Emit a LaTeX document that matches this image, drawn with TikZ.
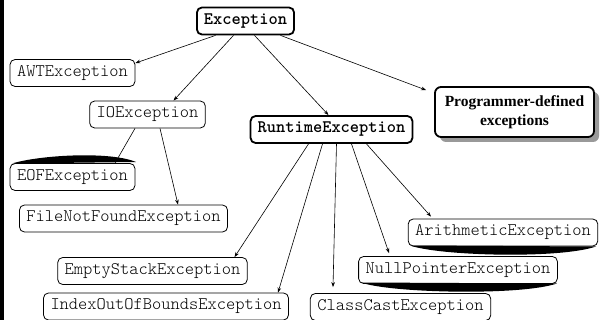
\documentclass[tikz,border=0pt]{standalone}
\usepackage{fontspec}
\setmainfont{Liberation Serif}
\setmonofont{lmmonolt10-regular.otf}[BoldFont=lmmonolt10-bold.otf]
\usetikzlibrary{arrows.meta}
\begin{document}
\begin{tikzpicture}[x=1pt,y=-1pt,
  cls/.style={draw=black, line width=0.8pt, rounded corners=5pt,
    font=\ttfamily\fontsize{17.6}{20}\selectfont, text=black,
    inner xsep=7pt, inner ysep=0pt, minimum height=27pt},
  key/.style={cls, line width=1.8pt,
    font=\ttfamily\bfseries\fontsize{17.6}{20}\selectfont},
  link/.style={line width=0.6pt, -{Stealth[length=5pt,width=3.6pt]}},
  swoosh/.style={fill=black, draw=none}
]
\useasboundingbox (0,0) rectangle (602,320);
\fill[black] (0,0) rectangle (4,320);

% root and its direct subclasses
\node[key] (exc) at (245.5,21) {Exception};
\node[cls] (awt) at (72.5,73) {AWTException};
\node[cls] (io) at (147.5,114.5) {IOException};
\node[key] (rt) at (331.5,129.5) {RuntimeException};

% programmer-defined box with drop shadow
\fill[black!40, rounded corners=6pt] (440,92) rectangle (599,142);
\node[draw=black, fill=white, line width=1.8pt, rounded corners=6pt,
  minimum width=159pt, minimum height=50pt, align=center,
  font=\bfseries\fontsize{15.5}{19}\selectfont] (prog) at (514.5,112)
  {Programmer-defined\\exceptions};

% IOException subclasses
\fill[swoosh] (12,163.5) .. controls (40,155) and (110,151) .. (136,162) -- cycle;
\node[cls] (eof) at (72.5,177) {EOFException};
\node[cls] (fnf) at (123.5,218.5) {FileNotFoundException};

% RuntimeException subclasses
\fill[swoosh] (410,245.5) .. controls (440,256) and (560,259) .. (596,246.5) -- cycle;
\fill[swoosh] (361,282.5) .. controls (390,293) and (520,296) .. (557,283.5) -- cycle;
\node[cls] (ar) at (503,232.5) {ArithmeticException};
\node[cls] (np) at (458,270) {NullPointerException};
\node[cls] (es) at (152.5,271) {EmptyStackException};
\node[cls] (idx) at (166,306.5) {IndexOutOfBoundsException};
\node[cls] (cc) at (400.5,307) {ClassCastException};

% inheritance links
\draw[link] ([xshift=-30pt]exc.south) -- ([yshift=-4pt]awt.north east);
\draw[link] ([xshift=-12pt]exc.south) -- ([xshift=26pt]io.north);
\draw[link] ([xshift=9pt]exc.south) -- ([xshift=-3pt]rt.north);
\draw[link] ([xshift=35pt]exc.south) -- ([xshift=-8pt,yshift=-4pt]prog.north west);

\draw[link] ([xshift=-12.5pt]io.south) -- ([xshift=42.5pt]eof.north);
\draw[link] ([xshift=12.5pt]io.south) -- ([xshift=54.5pt]fnf.north);

\draw[link] ([xshift=-23pt]rt.south) -- ([xshift=82pt]es.north);
\draw[link] ([xshift=-9pt]rt.south) -- ([xshift=112pt]idx.north);
\draw[link] ([xshift=5pt]rt.south) -- ([xshift=-67.5pt,yshift=6pt]cc.north);
\draw[link] ([xshift=20pt]rt.south) -- ([xshift=-69pt,yshift=3pt]np.north);
\draw[link] ([xshift=35pt]rt.south) -- ([xshift=-72pt,yshift=2pt]ar.north);
\end{tikzpicture}
\end{document}
